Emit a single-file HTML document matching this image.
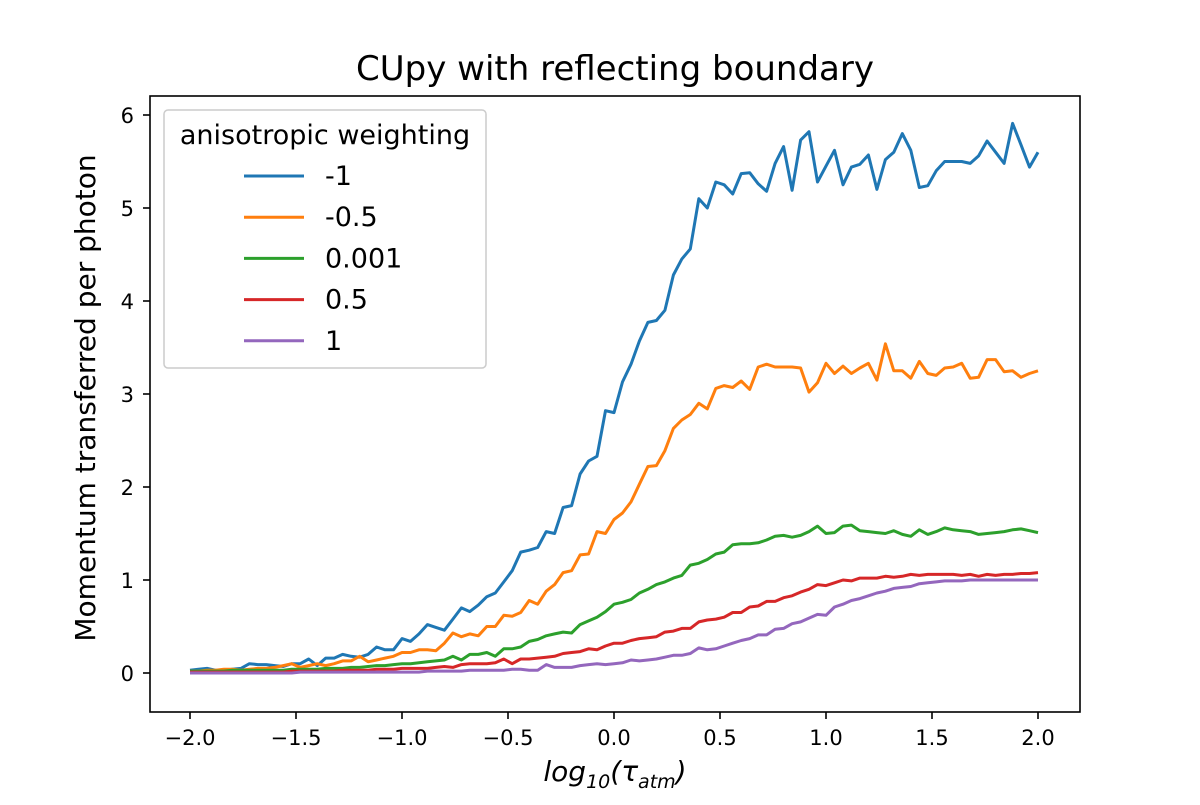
<!DOCTYPE html>
<html><head><meta charset="utf-8"><style>
body{margin:0;background:#fff}
svg text{font-family:"DejaVu Sans","Liberation Sans",sans-serif;fill:#000}
</style></head><body>
<svg width="1200" height="800" xmlns="http://www.w3.org/2000/svg">
<rect width="1200" height="800" fill="#fff"/>
<text x="615" y="80" font-size="34" text-anchor="middle">CUpy with reflecting boundary</text>
<g id="plot"></g>
<rect x="150" y="96" width="930" height="616" fill="none" stroke="#000" stroke-width="1.6"/>
<g id="xt"></g><g id="yt"></g>
<text x="615" y="781" font-size="28" text-anchor="middle" font-style="italic">log<tspan font-size="19" dy="7">10</tspan><tspan dy="-7">(τ</tspan><tspan font-size="19" dy="7">atm</tspan><tspan dy="-7">)</tspan></text>
<text transform="translate(95,398) rotate(-90)" font-size="28" text-anchor="middle">Momentum transferred per photon</text>
<g id="legend">
<rect x="164" y="110" width="322" height="258" rx="4" fill="#fff" fill-opacity="0.8" stroke="#ccc" stroke-width="1.5"/>
<text x="325" y="144" font-size="27" text-anchor="middle">anisotropic weighting</text>
</g>
</svg>
<script>
const xStart=-2, xStep=0.04;
const seriesNames=["-1","-0.5","0.001","0.5","1"];
const seriesColors=["#1f77b4","#ff7f0e","#2ca02c","#d62728","#9467bd"];
const blue=[0.03,0.04,0.05,0.03,0.03,0.04,0.05,0.1,0.09,0.09,0.08,0.07,0.1,0.1,0.15,0.08,0.16,0.16,0.2,0.18,0.17,0.2,0.28,0.25,0.25,0.37,0.34,0.42,0.52,0.49,0.46,0.58,0.7,0.66,0.73,0.82,0.86,0.98,1.1,1.3,1.32,1.35,1.52,1.5,1.78,1.8,2.14,2.28,2.33,2.82,2.8,3.13,3.32,3.57,3.77,3.79,3.9,4.28,4.45,4.56,5.1,5.0,5.28,5.25,5.15,5.37,5.38,5.26,5.18,5.48,5.66,5.19,5.73,5.82,5.28,5.45,5.62,5.25,5.44,5.47,5.57,5.2,5.52,5.6,5.8,5.62,5.22,5.24,5.4,5.5,5.5,5.5,5.48,5.56,5.72,5.6,5.48,5.91,5.68,5.44,5.6];
const orange=[0.02,0.02,0.03,0.03,0.04,0.04,0.03,0.04,0.05,0.05,0.06,0.08,0.1,0.06,0.08,0.1,0.08,0.1,0.13,0.13,0.18,0.12,0.14,0.16,0.18,0.22,0.22,0.25,0.25,0.24,0.32,0.43,0.39,0.42,0.4,0.5,0.5,0.62,0.61,0.65,0.78,0.74,0.88,0.95,1.08,1.1,1.27,1.28,1.52,1.5,1.65,1.72,1.84,2.03,2.22,2.23,2.39,2.63,2.72,2.78,2.9,2.84,3.06,3.09,3.07,3.14,3.05,3.29,3.32,3.29,3.29,3.29,3.28,3.02,3.12,3.33,3.22,3.3,3.22,3.28,3.33,3.15,3.54,3.25,3.25,3.17,3.35,3.22,3.2,3.28,3.29,3.33,3.17,3.18,3.37,3.37,3.24,3.25,3.18,3.22,3.25];
const green=[0.02,0.02,0.02,0.02,0.02,0.03,0.03,0.03,0.03,0.03,0.03,0.03,0.04,0.04,0.04,0.04,0.05,0.05,0.05,0.06,0.06,0.07,0.08,0.08,0.09,0.1,0.1,0.11,0.12,0.13,0.14,0.18,0.14,0.2,0.2,0.22,0.18,0.26,0.26,0.28,0.34,0.36,0.4,0.42,0.44,0.43,0.52,0.56,0.6,0.66,0.74,0.76,0.79,0.86,0.9,0.95,0.98,1.02,1.05,1.16,1.18,1.22,1.28,1.3,1.38,1.39,1.39,1.4,1.43,1.47,1.48,1.46,1.48,1.52,1.58,1.5,1.51,1.58,1.59,1.53,1.52,1.51,1.5,1.53,1.49,1.47,1.54,1.49,1.52,1.56,1.54,1.53,1.52,1.49,1.5,1.51,1.52,1.54,1.55,1.53,1.51];
const red=[0.01,0.01,0.01,0.01,0.01,0.01,0.01,0.01,0.01,0.01,0.01,0.01,0.02,0.02,0.02,0.02,0.02,0.02,0.03,0.03,0.03,0.03,0.04,0.04,0.04,0.05,0.05,0.05,0.05,0.06,0.07,0.06,0.09,0.1,0.1,0.1,0.11,0.15,0.1,0.15,0.15,0.16,0.17,0.18,0.21,0.22,0.23,0.26,0.25,0.29,0.32,0.32,0.35,0.37,0.38,0.39,0.44,0.45,0.48,0.48,0.55,0.57,0.58,0.6,0.65,0.65,0.71,0.72,0.77,0.77,0.81,0.83,0.87,0.9,0.95,0.94,0.97,1.0,0.99,1.02,1.02,1.02,1.04,1.03,1.04,1.06,1.05,1.06,1.06,1.06,1.06,1.05,1.06,1.04,1.06,1.05,1.06,1.06,1.07,1.07,1.08];
const purple=[0,0,0,0,0,0,0,0,0,0,0,0,0,0.01,0.01,0.01,0.01,0.01,0.01,0.01,0.01,0.01,0.01,0.01,0.01,0.01,0.01,0.01,0.02,0.02,0.02,0.02,0.02,0.03,0.03,0.03,0.03,0.03,0.04,0.04,0.03,0.03,0.09,0.06,0.06,0.06,0.08,0.09,0.1,0.09,0.1,0.11,0.14,0.13,0.14,0.15,0.17,0.19,0.19,0.21,0.27,0.25,0.26,0.29,0.32,0.35,0.37,0.41,0.41,0.47,0.48,0.53,0.55,0.59,0.63,0.62,0.71,0.74,0.78,0.8,0.83,0.86,0.88,0.91,0.92,0.93,0.96,0.97,0.98,0.99,0.99,0.99,1.0,1.0,1.0,1.0,1.0,1.0,1.0,1.0,1.0];
const xTicks=[-2.0,-1.5,-1.0,-0.5,0.0,0.5,1.0,1.5,2.0];
const xTickLabels=["\u22122.0","\u22121.5","\u22121.0","\u22120.5","0.0","0.5","1.0","1.5","2.0"];
const yTicks=[0,1,2,3,4,5,6];
const yTickLabels=["0","1","2","3","4","5","6"];
const allSeries=[blue,orange,green,red,purple];
const NS="http://www.w3.org/2000/svg";
function xs(v){return 190+212*(v+2);}
function ys(v){return 673-93*v;}
const plot=document.getElementById('plot');
allSeries.forEach((s,i)=>{
  const p=document.createElementNS(NS,'polyline');
  p.setAttribute('points',s.map((v,j)=>xs(xStart+j*xStep).toFixed(1)+','+ys(v).toFixed(1)).join(' '));
  p.setAttribute('fill','none');p.setAttribute('stroke',seriesColors[i]);p.setAttribute('stroke-width','3');p.setAttribute('stroke-linejoin','round');
  
  
  plot.appendChild(p);
});
const xt=document.getElementById('xt');
xTicks.forEach((t,i)=>{
  const l=document.createElementNS(NS,'line');
  l.setAttribute('x1',xs(t));l.setAttribute('x2',xs(t));l.setAttribute('y1',712);l.setAttribute('y2',719);l.setAttribute('stroke','#000');l.setAttribute('stroke-width','1.6');
  
  
  xt.appendChild(l);
  const tx=document.createElementNS(NS,'text');
  tx.setAttribute('x',xs(t));tx.setAttribute('y',745);tx.setAttribute('font-size','21');tx.setAttribute('text-anchor','middle');tx.textContent=xTickLabels[i];
  
  
  xt.appendChild(tx);
});
const yt=document.getElementById('yt');
yTicks.forEach((t,i)=>{
  const l=document.createElementNS(NS,'line');
  l.setAttribute('x1',143);l.setAttribute('x2',150);l.setAttribute('y1',ys(t));l.setAttribute('y2',ys(t));l.setAttribute('stroke','#000');l.setAttribute('stroke-width','1.6');
  
  
  yt.appendChild(l);
  const tx=document.createElementNS(NS,'text');
  tx.setAttribute('x',134);tx.setAttribute('y',ys(t)+8);tx.setAttribute('font-size','21');tx.setAttribute('text-anchor','end');tx.textContent=yTickLabels[i];
  
  
  yt.appendChild(tx);
});
const lg=document.getElementById('legend');
seriesNames.forEach((n,i)=>{
  const y=176+41.2*i;
  const l=document.createElementNS(NS,'line');
  l.setAttribute('x1',244);l.setAttribute('x2',304);l.setAttribute('y1',y);l.setAttribute('y2',y);l.setAttribute('stroke',seriesColors[i]);l.setAttribute('stroke-width','3');
  
  
  lg.appendChild(l);
  const tx=document.createElementNS(NS,'text');
  tx.setAttribute('x',325);tx.setAttribute('y',y+9);tx.setAttribute('font-size','27');tx.textContent=n;
  
  
  lg.appendChild(tx);
});
</script>
</body></html>
